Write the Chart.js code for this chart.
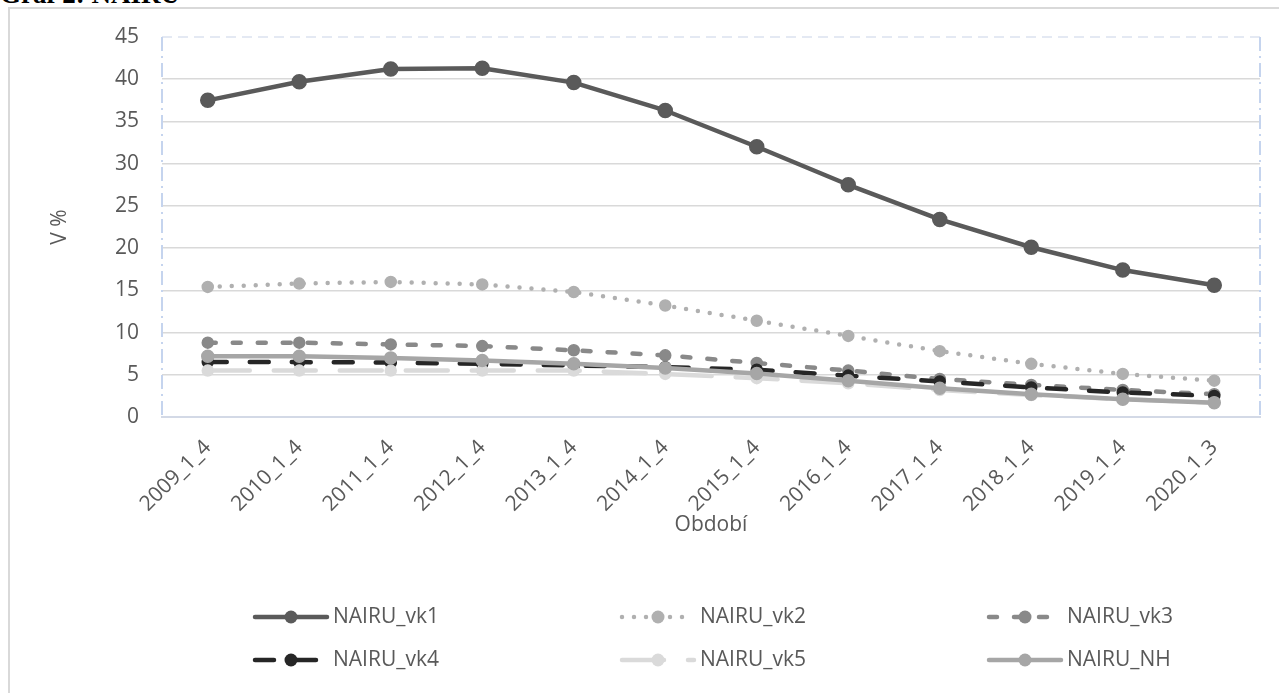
<!DOCTYPE html>
<html>
<head>
<meta charset="utf-8">
<script src="https://cdn.jsdelivr.net/npm/chart.js@4.4.0/dist/chart.umd.min.js"></script>
<style>
  html, body { margin: 0; padding: 0; background: #fff; overflow: hidden; }
  body { width: 1279px; height: 693px; position: relative; }
  #caption { position: absolute; left: 0; top: -19px; font: bold 27px/27px "Liberation Serif", serif; color: #000; white-space: nowrap; }
  #frame { position: absolute; left: 8px; top: 7px; width: 1300px; height: 720px; border: 2px solid #d9d9d9; box-sizing: border-box; }
  #chart { position: absolute; left: 0; top: 0; }
</style>
</head>
<body>
<div id="caption">Graf 2: NAIRU</div>
<div id="frame"></div>
<canvas id="chart" width="1279" height="693"></canvas>
<script>
// periods on the x axis
const periods = ['2009_1_4', '2010_1_4', '2011_1_4', '2012_1_4', '2013_1_4', '2014_1_4',
                 '2015_1_4', '2016_1_4', '2017_1_4', '2018_1_4', '2019_1_4', '2020_1_3'];

// NAIRU by group, in %
const nairuVk1 = [37.5, 39.7, 41.2, 41.3, 39.6, 36.3, 32.0, 27.5, 23.4, 20.1, 17.4, 15.6];
const nairuVk2 = [15.4, 15.8, 16.0, 15.7, 14.8, 13.2, 11.4, 9.6, 7.8, 6.3, 5.1, 4.3];
const nairuVk3 = [8.8, 8.8, 8.6, 8.4, 7.9, 7.3, 6.4, 5.5, 4.5, 3.8, 3.2, 2.7];
const nairuVk4 = [6.5, 6.5, 6.45, 6.3, 6.1, 5.9, 5.6, 4.9, 4.2, 3.5, 2.9, 2.5];
const nairuVk5 = [5.5, 5.5, 5.5, 5.5, 5.5, 5.1, 4.6, 4.0, 3.2, 2.6, 2.1, 1.7];
const nairuNH = [7.2, 7.2, 7.0, 6.7, 6.3, 5.8, 5.15, 4.3, 3.4, 2.7, 2.1, 1.7];

const tickFont = { family: 'Open Sans', size: 21 };
const textColor = '#595959';

function series(label, data, color, dash, radius) {
    return {
        label: label,
        data: data,
        borderColor: color,
        backgroundColor: color,
        pointBackgroundColor: color,
        pointBorderColor: color,
        borderWidth: 4.5,
        borderDash: dash,
        borderCapStyle: 'round',
        borderJoinStyle: 'round',
        pointRadius: radius,
        pointBorderWidth: 1.5,
        tension: 0
    };
}

const datasets = [
    series('NAIRU_vk1', nairuVk1, '#5a5a5a', [], 7),
    series('NAIRU_vk2', nairuVk2, '#b0b0b0', [0, 12], 5.5),
    series('NAIRU_vk3', nairuVk3, '#898989', [8, 17], 5.5),
    series('NAIRU_vk4', nairuVk4, '#262626', [19, 23], 5.5),
    series('NAIRU_vk5', nairuVk5, '#dadada', [42, 24], 5.5),
    series('NAIRU_NH', nairuNH, '#a6a6a6', [], 6)
];
// like Excel: later series on top
datasets.forEach((d, i) => { d.order = datasets.length - 1 - i; });

// light blue frame round the plot area
const plotFrame = {
    id: 'plotFrame',
    beforeDatasetsDraw(chart) {
        const { ctx, chartArea: a } = chart;
        ctx.save();
        ctx.lineWidth = 2;
        ctx.strokeStyle = '#e4e9f3';
        ctx.setLineDash([10, 6]);
        ctx.beginPath();
        ctx.moveTo(a.left, a.top);
        ctx.lineTo(a.right, a.top);
        ctx.stroke();
        ctx.strokeStyle = '#c5d4ee';
        ctx.setLineDash([14, 5, 2, 5]);
        ctx.beginPath();
        ctx.moveTo(a.left, a.top);
        ctx.lineTo(a.left, a.bottom);
        ctx.moveTo(a.right, a.top);
        ctx.lineTo(a.right, a.bottom);
        ctx.stroke();
        ctx.restore();
    }
};

// legend in 3 columns x 2 rows
const gridLegend = {
    id: 'gridLegend',
    afterDraw(chart) {
        const ctx = chart.ctx;
        const mid = (chart.chartArea.left + chart.chartArea.right) / 2;
        const colGap = 367, symLen = 72;
        const rowsY = [chart.height - 76, chart.height - 33];
        chart.data.datasets.forEach((ds, i) => {
            const x = mid - 89 + (i % 3 - 1) * colGap;
            const y = rowsY[Math.floor(i / 3)];
            ctx.save();
            ctx.strokeStyle = ds.borderColor;
            ctx.lineWidth = ds.borderWidth;
            ctx.lineCap = ds.borderCapStyle;
            ctx.setLineDash(ds.borderDash);
            ctx.beginPath();
            ctx.moveTo(x, y);
            ctx.lineTo(x + symLen, y);
            ctx.stroke();
            ctx.setLineDash([]);
            ctx.fillStyle = ds.pointBackgroundColor;
            ctx.beginPath();
            ctx.arc(x + symLen / 2, y, 6.5, 0, Math.PI * 2);
            ctx.fill();
            ctx.fillStyle = textColor;
            ctx.font = '21px "Open Sans"';
            ctx.textBaseline = 'middle';
            ctx.fillText(ds.label, x + 78, y);
            ctx.restore();
        });
    }
};

const ctx = document.getElementById('chart').getContext('2d');
new Chart(ctx, {
    type: 'line',
    data: { labels: periods, datasets: datasets },
    plugins: [plotFrame, gridLegend],
    options: {
        responsive: false,
        animation: false,
        devicePixelRatio: 1,
        layout: { padding: { left: 0, top: 37, right: 19, bottom: 148 } },
        plugins: {
            legend: { display: false },
            tooltip: { enabled: false }
        },
        scales: {
            x: {
                offset: true,
                grid: { display: false },
                border: { color: '#d3d9e6', width: 2 },
                ticks: {
                    color: textColor, font: tickFont, padding: 10,
                    minRotation: 45, maxRotation: 45, autoSkip: false
                },
                title: {
                    display: true, text: 'Období', color: textColor, font: tickFont,
                    padding: { top: 0, bottom: 7 }
                },
                afterFit(scale) { scale.height = 128; }
            },
            y: {
                min: 0,
                max: 45,
                border: { display: false },
                grid: {
                    drawTicks: false,
                    lineWidth: 1.5,
                    color: c => c.tick.value === 45 ? 'rgba(0,0,0,0)' : (c.tick.value === 0 ? '#d3d9e6' : '#d9d9d9')
                },
                ticks: { stepSize: 5, padding: 23, color: textColor, font: tickFont },
                title: {
                    display: true, text: 'V %', color: textColor, font: tickFont,
                    padding: { top: 47, bottom: 0 }
                },
                afterFit(scale) { scale.width = 162; }
            }
        }
    }
});
</script>
</body>
</html>
